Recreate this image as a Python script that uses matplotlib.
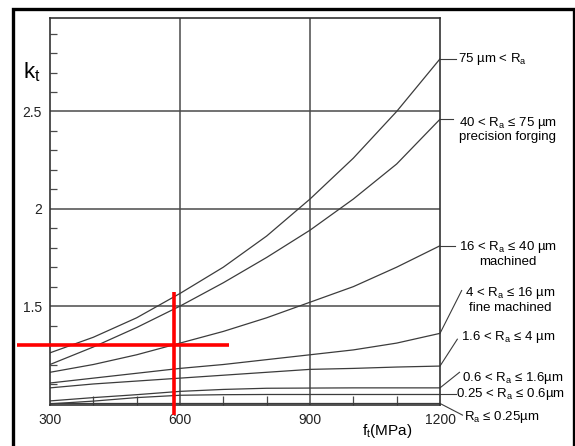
import matplotlib.pyplot as plt
import numpy as np
from matplotlib.patches import Rectangle

plt.rcParams["font.family"] = ["Liberation Sans", "DejaVu Sans"]
plt.rcParams["mathtext.default"] = "regular"

# Tensile strength f_t (MPa) where the curves were read
ft = [300, 400, 500, 600, 700, 800, 900, 1000, 1100, 1200]

# Surface factor k_t for each roughness class
kt_75_up = [1.26, 1.34, 1.44, 1.565, 1.70, 1.86, 2.05, 2.26, 2.50, 2.77]
kt_40_75 = [1.20, 1.29, 1.39, 1.50, 1.62, 1.75, 1.89, 2.05, 2.23, 2.46]
kt_16_40 = [1.16, 1.20, 1.25, 1.31, 1.37, 1.44, 1.52, 1.60, 1.70, 1.81]
kt_4_16 = [1.105, 1.13, 1.155, 1.18, 1.20, 1.225, 1.25, 1.275, 1.31, 1.36]
kt_16_4 = [1.08, 1.10, 1.115, 1.13, 1.145, 1.16, 1.175, 1.18, 1.187, 1.192]
kt_06_16 = [1.013, 1.03, 1.045, 1.062, 1.072, 1.078, 1.079, 1.08, 1.08, 1.08]
kt_025_06 = [0.998, 1.012, 1.03, 1.042, 1.045, 1.046, 1.046, 1.046, 1.046, 1.046]
kt_025 = [1.0, 1.0, 1.0, 1.0, 1.0, 1.0, 1.0, 1.0, 1.0, 1.0]

curves = [kt_75_up, kt_40_75, kt_16_40, kt_4_16, kt_16_4, kt_06_16, kt_025_06, kt_025]

labels = [
    "75 µm < R$_a$",
    "40 < R$_a$ ≤ 75 µm\nprecision forging",
    "16 < R$_a$ ≤ 40 µm\nmachined",
    "4 < R$_a$ ≤ 16 µm\nfine machined",
    "1.6 < R$_a$ ≤ 4 µm",
    "0.6 < R$_a$ ≤ 1.6µm",
    "0.25 < R$_a$ ≤ 0.6µm",
    "R$_a$ ≤ 0.25µm",
]
# leader end (x, y) and text anchor (x, y) in data units
leader_ends = [
    (1237, 2.77), (1230, 2.46), (1235, 1.81), (1250, 1.58),
    (1240, 1.33), (1245, 1.16), (1237, 1.046), (1252, 0.94),
]
label_pos = [
    (1241, 2.77), (1243, 2.41), (1243, 1.77), (1258, 1.535),
    (1248, 1.34), (1250, 1.132), (1238, 1.050), (1255, 0.93),
]

x_ticks = [300, 600, 900, 1200]
x_ticklabels = ["300", "600", "900", "1200"]
y_ticks = [1.5, 2.0, 2.5]
y_ticklabels = ["1.5", "2", "2.5"]

# red reading marker
marker_ft = 585
marker_kt = 1.30

fig = plt.figure(figsize=(5.75, 4.46), dpi=100)
ax = fig.add_axes([50 / 575, 1 - 405 / 446, 390 / 575, 387 / 446])
ax.set_xlim(300, 1200)
ax.set_ylim(0.992, 2.98)

grey = "#4a4a4a"
for x in [600, 900]:
    ax.axvline(x, color=grey, lw=1.1, zorder=1)
for y in y_ticks:
    ax.axhline(y, color=grey, lw=1.1, zorder=1)

for kt in curves:
    ax.plot(ft, kt, color="#3c3c3c", lw=0.9, zorder=2)

for kt, label, end, pos in zip(curves, labels, leader_ends, label_pos):
    ax.plot([ft[-1], end[0]], [kt[-1], end[1]], color="#3c3c3c", lw=0.8,
            clip_on=False)
    ax.text(pos[0], pos[1], label, ha="left", va="center",
            multialignment="center", fontsize=9.5, linespacing=1.05)

for s in ax.spines.values():
    s.set_color("#333333")
    s.set_linewidth(1.2)

ax.set_xticks(x_ticks)
ax.set_xticklabels(x_ticklabels)
ax.set_yticks(y_ticks)
ax.set_yticklabels(y_ticklabels)
ax.set_xticks([400, 500, 700, 800, 1000, 1100], minor=True)
ax.set_yticks([v / 10 for v in range(10, 30) if v % 5 != 0], minor=True)
ax.tick_params(which="major", length=0, labelsize=10, pad=6,
               labelcolor="#222222")
ax.tick_params(which="minor", direction="in", color=grey)
ax.tick_params(axis="x", which="minor", length=6.5, width=0.9)
ax.tick_params(axis="y", which="minor", length=5, width=0.9)

fig.text(23 / 575, 1 - 72 / 446, "k$_t$", fontsize=16, va="center")
fig.text(387 / 575, 1 - 431 / 446, "f$_t$(MPa)", fontsize=11,
         ha="center", va="center")

# red reading cross
ax.plot([marker_ft, marker_ft], [1.57, 0.94], color="red", lw=2.6,
        clip_on=False, zorder=5, solid_capstyle="butt")
ax.plot([224, 713], [marker_kt, marker_kt], color="red", lw=2.6,
        clip_on=False, zorder=5, solid_capstyle="butt")

fig.add_artist(Rectangle((13.3 / 575, -0.1), (573.5 - 13.3) / 575,
                         1.1 - 8.8 / 446, transform=fig.transFigure,
                         fill=False, ec="black", lw=2.4))

fig.savefig("out.png", dpi=100)
